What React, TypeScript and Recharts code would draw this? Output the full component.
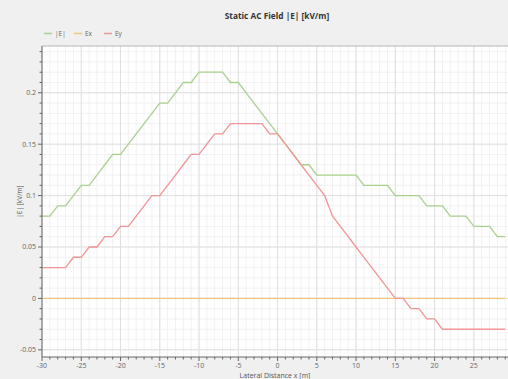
import React from "react";
import { LineChart, Line, XAxis, YAxis, CartesianGrid, ReferenceLine } from "recharts";

// lateral distance x [m]
const xValues = [
  -30, -29, -28, -27, -26, -25, -24, -23, -22, -21, -20, -19, -18, -17, -16, -15, -14, -13, -12, -11,
  -10, -9, -8, -7, -6, -5, -4, -3, -2, -1, 0, 1, 2, 3, 4, 5, 6, 7, 8, 9,
  10, 11, 12, 13, 14, 15, 16, 17, 18, 19, 20, 21, 22, 23, 24, 25, 26, 27, 28, 29,
];

// |E| [kV/m]
const eAbs = [
  0.08, 0.08, 0.09, 0.09, 0.1, 0.11, 0.11, 0.12, 0.13, 0.14, 0.14, 0.15, 0.16, 0.17, 0.18, 0.19, 0.19, 0.2, 0.21, 0.21,
  0.22, 0.22, 0.22, 0.22, 0.21, 0.21, 0.2, 0.19, 0.18, 0.17, 0.16, 0.15, 0.14, 0.13, 0.13, 0.12, 0.12, 0.12, 0.12, 0.12,
  0.12, 0.11, 0.11, 0.11, 0.11, 0.1, 0.1, 0.1, 0.1, 0.09, 0.09, 0.09, 0.08, 0.08, 0.08, 0.07, 0.07, 0.07, 0.06, 0.06,
];

// Ex [kV/m]
const exValues = [
  0, 0, 0, 0, 0, 0, 0, 0, 0, 0, 0, 0, 0, 0, 0, 0, 0, 0, 0, 0,
  0, 0, 0, 0, 0, 0, 0, 0, 0, 0, 0, 0, 0, 0, 0, 0, 0, 0, 0, 0,
  0, 0, 0, 0, 0, 0, 0, 0, 0, 0, 0, 0, 0, 0, 0, 0, 0, 0, 0, 0,
];

// Ey [kV/m]
const eyValues = [
  0.03, 0.03, 0.03, 0.03, 0.04, 0.04, 0.05, 0.05, 0.06, 0.06, 0.07, 0.07, 0.08, 0.09, 0.1, 0.1, 0.11, 0.12, 0.13, 0.14,
  0.14, 0.15, 0.16, 0.16, 0.17, 0.17, 0.17, 0.17, 0.17, 0.16, 0.16, 0.15, 0.14, 0.13, 0.12, 0.11, 0.1, 0.08, 0.07, 0.06,
  0.05, 0.04, 0.03, 0.02, 0.01, 0, 0, -0.01, -0.01, -0.02, -0.02, -0.03, -0.03, -0.03, -0.03, -0.03, -0.03, -0.03, -0.03, -0.03,
];

const seriesNames = ["|E|", "Ex", "Ey"];

const xMajorTicks = [-30, -25, -20, -15, -10, -5, 0, 5, 10, 15, 20, 25];
const xTickLabels = ["-30", "-25", "-20", "-15", "-10", "-5", "0", "5", "10", "15", "20", "25"];
const yMajorTicks = [-0.05, 0, 0.05, 0.1, 0.15, 0.2];
const yTickLabels = ["-0.05", "0", "0.05", "0.1", "0.15", "0.2"];

const X_MIN = -30;
const X_MAX = 29.35;
const Y_MIN = -0.057;
const Y_MAX = 0.2455;

const xMinorTicks: number[] = [];
for (let i = -30; i <= 29; i++) xMinorTicks.push(i);
const yMinorTicks: number[] = [];
for (let i = -5; i <= 24; i++) yMinorTicks.push(i / 100);

const data = xValues.map((x, i) => ({ x, eAbs: eAbs[i], ex: exValues[i], ey: eyValues[i] }));

const FONT = "'Open Sans', 'Noto Sans', sans-serif";
const GREEN = "#a9d18e";
const ORANGE = "#f2c77c";
const RED = "#f09494";
const colors = [GREEN, ORANGE, RED];

const XTick = (props: any) => {
  const { x, y, payload } = props;
  const idx = xMajorTicks.indexOf(payload.value);
  const major = idx >= 0;
  return (
    <g>
      <line x1={x} x2={x} y1={y} y2={y + (major ? 4 : 2.5)} stroke="#666" />
      {major && (
        <text x={x} y={y + 11} textAnchor="middle" fontSize={7} fill="#666" fontFamily={FONT}>
          {xTickLabels[idx]}
        </text>
      )}
    </g>
  );
};

const YTick = (props: any) => {
  const { x, y, payload } = props;
  const idx = yMajorTicks.findIndex((v) => Math.abs(v - payload.value) < 1e-6);
  const major = idx >= 0;
  return (
    <g>
      <line x1={x} x2={x - (major ? 4 : 2.5)} y1={y} y2={y} stroke="#666" />
      {major && (
        <text x={x - 6} y={y + 2.5} textAnchor="end" fontSize={7} fill="#666" fontFamily={FONT}>
          {yTickLabels[idx]}
        </text>
      )}
    </g>
  );
};

export default function App() {
  return (
    <div style={{ position: "fixed", left: 0, top: 0, width: 508, height: 379, background: "#f0f0f0", overflow: "hidden" }}>
      <div
        style={{
          position: "absolute",
          left: 42,
          width: 470,
          top: 10,
          textAlign: "center",
          fontFamily: FONT,
          fontWeight: 700,
          fontSize: 8.3,
          color: "#333",
        }}
      >
        Static AC Field |E| [kV/m]
      </div>
      <svg style={{ position: "absolute", left: 0, top: 26 }} width={200} height={14}>
        {seriesNames.map((name, i) => (
          <g key={name}>
            <line x1={44 + i * 30} x2={52 + i * 30} y1={7.5} y2={7.5} stroke={colors[i]} strokeWidth={1.5} />
            <text x={55 + i * 30} y={10} fontSize={6.5} fill="#666" fontFamily={FONT}>
              {name}
            </text>
          </g>
        ))}
      </svg>
      <LineChart width={508} height={379} data={data} margin={{ top: 46, right: 0, bottom: 0, left: 0 }}>
        <CartesianGrid
          fill="#ffffff"
          stroke="#f1f1f1"
          verticalValues={xMinorTicks}
          horizontalValues={yMinorTicks}
        />
        <CartesianGrid stroke="#e0e0e0" verticalValues={xMajorTicks} horizontalValues={yMajorTicks} />
        <XAxis
          dataKey="x"
          type="number"
          domain={[X_MIN, X_MAX]}
          ticks={xMinorTicks}
          interval={0}
          tick={<XTick />}
          tickLine={false}
          tickSize={0}
          tickMargin={0}
          height={22}
          stroke="#666"
          label={{ value: "Lateral Distance x [m]", position: "insideBottom", offset: 1, fontSize: 7, fill: "#555", fontFamily: FONT }}
        />
        <YAxis
          type="number"
          domain={[Y_MIN, Y_MAX]}
          allowDataOverflow
          ticks={yMinorTicks}
          interval={0}
          tick={<YTick />}
          tickLine={false}
          tickSize={0}
          tickMargin={0}
          width={42}
          stroke="#666"
          label={{ value: "|E| [kV/m]", angle: -90, position: "center", dx: -1, fontSize: 6.5, fill: "#555", fontFamily: FONT }}
        />
        <ReferenceLine y={Y_MAX} stroke="#b5b5b5" />
        <Line type="linear" dataKey="eAbs" name={seriesNames[0]} stroke={GREEN} strokeWidth={1.3} dot={false} isAnimationActive={false} />
        <Line type="linear" dataKey="ex" name={seriesNames[1]} stroke={ORANGE} strokeWidth={1.3} dot={false} isAnimationActive={false} />
        <Line type="linear" dataKey="ey" name={seriesNames[2]} stroke={RED} strokeWidth={1.3} dot={false} isAnimationActive={false} />
      </LineChart>
    </div>
  );
}
